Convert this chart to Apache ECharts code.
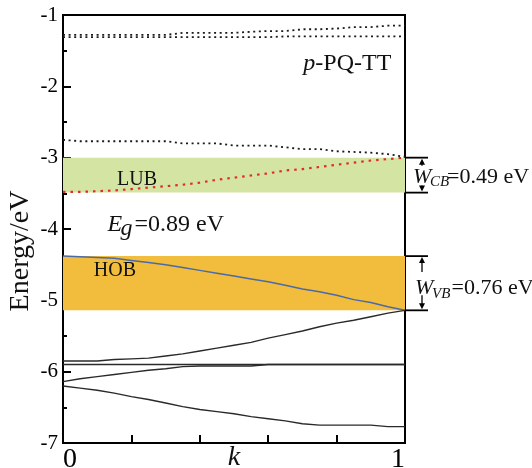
<!DOCTYPE html>
<html><head><meta charset="utf-8">
<script src="https://cdn.jsdelivr.net/npm/echarts@6/dist/echarts.min.js"></script>
<style>html,body{margin:0;padding:0;background:#fff}#c{width:532px;height:468px}</style>
</head><body><div id="c"></div>
<script>
const kValues = [0,0.05,0.1,0.15,0.2,0.25,0.3,0.35,0.4,0.45,0.5,0.55,0.6,0.65,0.7,0.75,0.8,0.85,0.9,0.95,1];
const cbTopA = [-1.28,-1.28,-1.28,-1.28,-1.28,-1.28,-1.28,-1.25,-1.25,-1.25,-1.25,-1.235,-1.225,-1.225,-1.20,-1.20,-1.19,-1.17,-1.17,-1.15,-1.15];
const cbTopB = [-1.31,-1.31,-1.31,-1.31,-1.31,-1.31,-1.31,-1.31,-1.31,-1.31,-1.31,-1.31,-1.31,-1.30,-1.30,-1.30,-1.30,-1.30,-1.30,-1.30,-1.30];
const cbNext = [-2.75,-2.77,-2.77,-2.77,-2.77,-2.77,-2.77,-2.80,-2.80,-2.80,-2.83,-2.83,-2.83,-2.855,-2.88,-2.88,-2.91,-2.92,-2.93,-2.95,-2.99];
const lubLine = [-3.48,-3.48,-3.47,-3.46,-3.44,-3.42,-3.40,-3.38,-3.35,-3.31,-3.28,-3.25,-3.22,-3.18,-3.16,-3.13,-3.10,-3.07,-3.04,-3.02,-3.00];
const hobLine = [-4.38,-4.39,-4.40,-4.41,-4.44,-4.47,-4.50,-4.54,-4.58,-4.62,-4.66,-4.70,-4.74,-4.79,-4.84,-4.88,-4.93,-4.99,-5.03,-5.09,-5.14];
const vbA = [-5.85,-5.85,-5.85,-5.83,-5.82,-5.81,-5.78,-5.75,-5.71,-5.67,-5.63,-5.59,-5.53,-5.48,-5.43,-5.37,-5.32,-5.28,-5.23,-5.18,-5.14];
const vbB = [-5.90,-5.90,-5.90,-5.90,-5.90,-5.90,-5.90,-5.90,-5.90,-5.90,-5.90,-5.90,-5.90,-5.90,-5.90,-5.90,-5.90,-5.90,-5.90,-5.90,-5.90];
const vbC = [-6.14,-6.10,-6.07,-6.04,-6.01,-5.98,-5.96,-5.93,-5.92,-5.92,-5.92,-5.92,-5.90,-5.90,-5.90,-5.90,-5.90,-5.90,-5.90,-5.90,-5.90];
const vbD = [-6.20,-6.23,-6.26,-6.30,-6.35,-6.39,-6.44,-6.49,-6.53,-6.56,-6.59,-6.63,-6.66,-6.69,-6.73,-6.75,-6.75,-6.75,-6.75,-6.77,-6.77];
const lubBand = [-3.00, -3.49];
const hobBand = [-4.38, -5.14];
const yTicks = [-7,-6,-5,-4,-3,-2,-1];
const xTickLabels = ['0', '1'];
const xAxisName = 'k';
const yAxisName = 'Energy/eV';
const molName = ['p', '-PQ-TT'];
const bandNames = ['LUB', 'HOB'];
const gapText = ['E', 'g', '=0.89 eV'];
const cbWidthText = ['W', 'CB', '=0.49 eV'];
const vbWidthText = ['W', 'VB', ' =0.76 eV'];

const SERIF = "'Liberation Serif', 'Times New Roman', Times, serif";
const chart = echarts.init(document.getElementById('c'), null, {renderer:'canvas'});
const pts = arr => kValues.map((k,i)=>[k, arr[i]]);
const dotBlack = {color:'#1a1a1a', width:1.8, type:[2,3.6]};
const solid = {color:'#2a2a2a', width:1.4};

chart.setOption({
  animation:false,
  grid:{left:63, right:127, top:15, bottom:25, containLabel:false, outerBoundsMode:'none', show:true, borderColor:'#000', borderWidth:2, backgroundColor:'transparent'},
  xAxis:{type:'value', min:0, max:1, interval:0.2,
    axisLine:{show:true, onZero:false, lineStyle:{color:'#000', width:2}},
    axisTick:{show:true, inside:true, length:8, lineStyle:{color:'#000', width:2}},
    splitLine:{show:false},
    axisLabel:{color:'#000', fontFamily:SERIF, fontSize:28, margin:3, alignMinLabel:'left', alignMaxLabel:'right',
      formatter:v=> Math.abs(v)<1e-9 ? xTickLabels[0] : (Math.abs(v-1)<1e-9 ? xTickLabels[1] : '')}
  },
  yAxis:{type:'value', min:yTicks[0], max:yTicks[yTicks.length-1], interval:1,
    axisLine:{show:true, onZero:false, lineStyle:{color:'#000', width:2}},
    axisTick:{show:true, inside:true, length:8, lineStyle:{color:'#000', width:2}},
    minorTick:{show:true, splitNumber:2, length:4, lineStyle:{color:'#000', width:2}},
    splitLine:{show:false},
    axisLabel:{color:'#000', fontFamily:SERIF, fontSize:21, margin:5}
  },
  series:[
    {type:'line', data:[], z:1, silent:true,
      markArea:{silent:true, data:[
        [{yAxis:lubBand[0], itemStyle:{color:'#d4e4a2'}}, {yAxis:lubBand[1]}],
        [{yAxis:hobBand[0], itemStyle:{color:'#f2bc3c'}}, {yAxis:hobBand[1]}]
      ]}},
    {type:'line', data:pts(cbTopA), symbol:'none', z:3, lineStyle:dotBlack},
    {type:'line', data:pts(cbTopB), symbol:'none', z:3, lineStyle:dotBlack},
    {type:'line', data:pts(cbNext), symbol:'none', z:3, lineStyle:dotBlack},
    {type:'line', data:pts(lubLine), symbol:'none', z:3, lineStyle:{color:'#e22a2a', width:2.2, type:[2.5,5]}},
    {type:'line', data:pts(hobLine), symbol:'none', z:3, lineStyle:{color:'#4b6aa8', width:1.5}},
    {type:'line', data:pts(vbA), symbol:'none', z:3, lineStyle:solid},
    {type:'line', data:pts(vbB), symbol:'none', z:3, lineStyle:solid},
    {type:'line', data:pts(vbC), symbol:'none', z:3, lineStyle:solid},
    {type:'line', data:pts(vbD), symbol:'none', z:3, lineStyle:solid}
  ]
});

function px(k, e){ return chart.convertToPixel({gridIndex:0}, [k, e]); }
function txt(x, y, text, size, italic, align){
  return {type:'text', x:x, y:y, z:100, style:{text:text, fill:'#111', font:(italic?'italic ':'')+size+'px '+SERIF, textAlign:align||'left', textVerticalAlign:'middle'}};
}
function bracket(band, topLen, botLen){
  const xr = px(1, band[0])[0];
  const yT = px(1, band[0])[1], yB = px(1, band[1])[1];
  const ax = xr + 17;
  const ls = {stroke:'#000', lineWidth:1.8};
  return [
    {type:'line', z:100, shape:{x1:xr, y1:yT, x2:xr+23, y2:yT}, style:ls},
    {type:'line', z:100, shape:{x1:xr, y1:yB, x2:xr+23, y2:yB}, style:ls},
    {type:'line', z:100, shape:{x1:ax, y1:yT+4, x2:ax, y2:yT+topLen}, style:{stroke:'#000', lineWidth:1.3}},
    {type:'line', z:100, shape:{x1:ax, y1:yB-botLen, x2:ax, y2:yB-4}, style:{stroke:'#000', lineWidth:1.3}},
    {type:'polygon', z:100, shape:{points:[[ax,yT+1],[ax-3,yT+7],[ax+3,yT+7]]}, style:{fill:'#000'}},
    {type:'polygon', z:100, shape:{points:[[ax,yB-1],[ax-3,yB-7],[ax+3,yB-7]]}, style:{fill:'#000'}}
  ];
}
const pMol = px(0.96, -1.68);
const pLub = px(0.158, -3.31);
const pHob = px(0.09, -4.58);
const pGap = px(0.13, -3.94);
const pK = px(0.5, -7);
const cbMid = px(1, (lubBand[0]+lubBand[1])/2);
const vbMid = px(1, (hobBand[0]+hobBand[1])/2 - 0.03);
const xr = cbMid[0];

chart.setOption({graphic:[
  {type:'text', x:21, y:251, rotation:Math.PI/2, z:100, style:{text:yAxisName, fill:'#111', font:'28px '+SERIF, textAlign:'center', textVerticalAlign:'middle'}},
  txt(pK[0], pK[1]+15, xAxisName, 28, true, 'center'),
  txt(pMol[0]-76, pMol[1], molName[0], 24, true, 'right'),
  txt(pMol[0]-76, pMol[1], molName[1], 24, false, 'left'),
  txt(pLub[0], pLub[1], bandNames[0], 20, false),
  txt(pHob[0], pHob[1], bandNames[1], 20, false),
  txt(pGap[0], pGap[1], gapText[0], 24, true),
  txt(pGap[0]+13, pGap[1]+4, gapText[1], 24, true),
  txt(pGap[0]+27, pGap[1], gapText[2], 24, false),
  txt(xr+8, cbMid[1]+2, cbWidthText[0], 22, true),
  txt(xr+25, cbMid[1]+7, cbWidthText[1], 15, true),
  txt(xr+42, cbMid[1]+2, cbWidthText[2], 22, false),
  txt(xr+10, vbMid[1]+3, vbWidthText[0], 22, true),
  txt(xr+27, vbMid[1]+9, vbWidthText[1], 15, true),
  txt(xr+41, vbMid[1]+3, vbWidthText[2], 22, false),
  ...bracket(lubBand, 8, 7),
  ...bracket(hobBand, 16, 15)
]});
</script></body></html>
